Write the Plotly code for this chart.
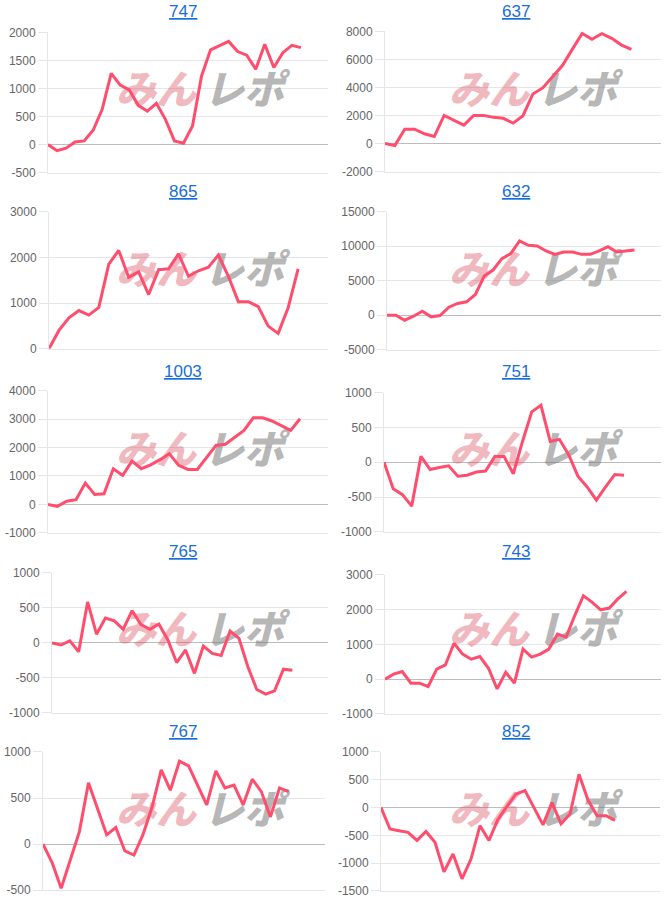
import plotly.graph_objects as go

W, H = 666, 898

# ---- data ----
titles = ["747", "637", "865", "632", "1003", "751", "765", "743", "767", "852"]

s747 = [0, -110, -65, 45, 65, 255, 630, 1270, 1060, 975, 700, 595, 735, 450, 65, 25,
        330, 1225, 1690, 1760, 1840, 1660, 1595, 1345, 1790, 1375, 1640, 1770, 1730]
s637 = [0, -145, 1030, 1030, 700, 500, 2010, 1650, 1320, 2010, 2010, 1870, 1800, 1460,
        1990, 3540, 3970, 4760, 5570, 6720, 7850, 7440, 7850, 7510, 7030, 6720]
s865 = [0, 400, 675, 835, 735, 905, 1850, 2150, 1560, 1680, 1185, 1730, 1750, 2075,
        1585, 1705, 1785, 2050, 1585, 1030, 1030, 920, 495, 335, 895, 1745]
s632 = [0, 0, -730, -150, 580, -240, -50, 1160, 1700, 1940, 3000, 5670, 6540, 8180,
        8910, 10750, 10120, 10020, 9300, 8810, 9150, 9150, 8810, 8810, 9300, 9930,
        9150, 9300, 9440]
s1003 = [0, -70, 115, 165, 750, 350, 375, 1255, 1020, 1525, 1255, 1395, 1575, 1785,
         1375, 1230, 1230, 1665, 2075, 2115, 2370, 2605, 3050, 3050, 2935, 2760, 2605, 3015]
s751 = [0, -380, -465, -630, 85, -105, -75, -50, -200, -185, -140, -125, 85, 85, -165,
        300, 725, 820, 300, 330, 110, -200, -355, -545, -355, -175, -185]
s765 = [0, -30, 30, -125, 585, 125, 355, 315, 195, 460, 260, 195, 270, 45, -280, -100,
        -435, -45, -150, -180, 170, 65, -340, -665, -730, -685, -375, -390]
s743 = [0, 145, 220, -115, -115, -210, 290, 410, 1035, 720, 575, 650, 315, -280, 200,
        -115, 865, 635, 720, 865, 1295, 1210, 1830, 2400, 2215, 1995, 2045, 2310, 2525]
s767 = [0, -200, -480, -180, 135, 665, 370, 100, 180, -75, -120, 105, 405, 805, 585,
        900, 850, 640, 425, 795, 610, 640, 425, 705, 570, 295, 610, 570]
s852 = [0, -385, -415, -445, -590, -430, -625, -1155, -835, -1280, -925, -325, -590,
        -210, 20, 245, 305, 5, -310, 90, -290, -115, 600, 135, -145, -145, -230]

series = [s747, s637, s865, s632, s1003, s751, s765, s743, s767, s852]

# number of category slots on each x axis (last label index)
x_slots = [31, 28, 28, 31, 30, 30, 31, 32, 31, 31]

y_ranges = [(-500, 2000), (-2000, 8000), (0, 3000), (-5000, 15000), (-1000, 4000),
            (-1000, 1000), (-1000, 1000), (-1000, 3000), (-500, 1000), (-1500, 1000)]
y_steps = [500, 2000, 1000, 5000, 1000, 500, 500, 1000, 500, 500]

wm_left = "みん"
wm_right = "レポ"

# ---- layout geometry (picture pixels): left, right, top, bottom of each plot area ----
boxes = [(48, 328, 33, 173), (385, 661, 32, 172),
         (49, 328, 212, 349), (387, 661, 212, 350),
         (48, 328, 391, 533), (384, 661, 393, 532),
         (52, 328, 573, 713), (385, 661, 575, 714),
         (43, 325, 752, 890), (381, 660, 752, 892)]

# the rendered page ends up slightly squeezed vertically; compensate
VS, VO = 0.9837, 7.54


def pyf(py):
    """picture y pixel -> paper fraction"""
    yy = (py - VO) / VS
    yy = min(max(yy, 0), H)
    return 1 - yy / H


def pxf(px):
    return px / W


LINE = "#ff4d6d"
GRID = "#e6e6e6"
ZERO = "#bdbdbd"
TICKC = "#666666"
FONT = "Liberation Sans, Arial, sans-serif"

fig = go.Figure()
layout = dict(width=W, height=H, margin=dict(l=0, r=0, t=0, b=0),
              paper_bgcolor="white", plot_bgcolor="white", showlegend=False,
              annotations=[])

for i in range(10):
    k = "" if i == 0 else str(i + 1)
    l, r, t, b = boxes[i]
    col_left = 0 if i % 2 == 0 else 333
    row_top = 180 * (i // 2)
    y0, y1 = y_ranges[i]
    xm = x_slots[i]

    # watermark as text behind the line (pixel position converted into data space)
    def to_data(px, py):
        xd = (px - l) / (r - l) * xm
        yd = y1 - (py - t) / (b - t) * (y1 - y0)
        return xd, yd
    xa, ya = to_data(col_left + 156, row_top + 94)
    xb, yb = to_data(col_left + 244, row_top + 94)
    fig.add_trace(go.Scatter(x=[xa], y=[ya], mode="text", text=[wm_left],
                             textfont=dict(family="Noto Sans CJK JP", size=40,
                                           color="rgba(215,70,85,0.38)",
                                           weight=900, style="italic"),
                             hoverinfo="skip", xaxis="x" + k, yaxis="y" + k))
    fig.add_trace(go.Scatter(x=[xb], y=[yb], mode="text", text=[wm_right],
                             textfont=dict(family="Noto Sans CJK JP", size=40,
                                           color="rgba(120,120,120,0.55)",
                                           weight=900, style="italic"),
                             hoverinfo="skip", xaxis="x" + k, yaxis="y" + k))

    ys = series[i]
    fig.add_trace(go.Scatter(x=list(range(len(ys))), y=ys, mode="lines",
                             line=dict(color=LINE, width=3),
                             xaxis="x" + k, yaxis="y" + k))

    tv = list(range(y0, y1 + 1, y_steps[i]))
    layout["xaxis" + k] = dict(domain=[pxf(l), pxf(r)], range=[0, xm], showgrid=False,
                               zeroline=False, showticklabels=False, ticks="",
                               showline=True, linecolor=GRID, linewidth=1,
                               anchor="y" + k, fixedrange=True)
    layout["yaxis" + k] = dict(domain=[pyf(b), pyf(t)], range=[y0, y1],
                               tickvals=tv, ticktext=[str(v) for v in tv],
                               ticklabeloverflow="allow",
                               showgrid=True, gridcolor=GRID, gridwidth=1,
                               zeroline=True, zerolinecolor=ZERO, zerolinewidth=1,
                               showline=True, linecolor=GRID, linewidth=1,
                               ticks="outside", ticklen=9, tickcolor=GRID,
                               tickfont=dict(family=FONT, size=12, color=TICKC),
                               anchor="x" + k, fixedrange=True)
    layout["annotations"].append(dict(
        text="<u>" + titles[i] + "</u>", xref="paper", yref="paper",
        x=pxf(col_left + 183), y=pyf(row_top + 12),
        xanchor="center", yanchor="middle", showarrow=False,
        font=dict(family=FONT, size=17, color="#1a6fd6")))

fig.update_layout(**layout)
fig.write_html("out.html")
